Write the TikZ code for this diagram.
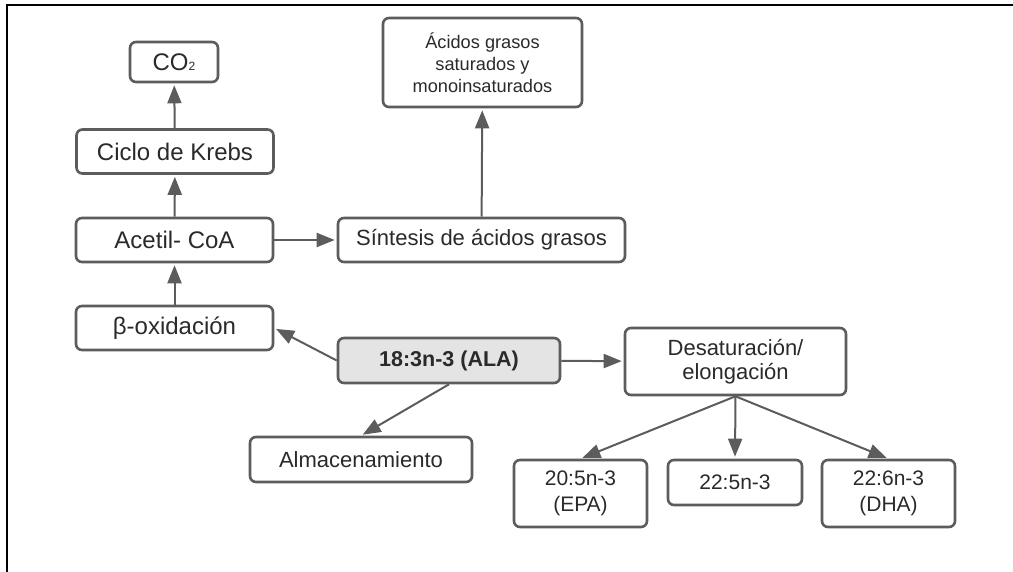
\documentclass[tikz,border=0pt]{standalone}
\usepackage{fontspec}
\setmainfont{Liberation Sans}
\usetikzlibrary{arrows.meta}
\definecolor{edge}{HTML}{5C5C5C}
\definecolor{ink}{HTML}{2A2A2A}
\definecolor{alafill}{HTML}{E4E4E4}
\begin{document}
\begin{tikzpicture}[x=1pt,y=-1pt,
  box/.style={draw=edge, line width=2.6pt, rounded corners=6pt, fill=white,
    inner sep=0pt, text=ink, align=center},
  conn/.style={draw=edge, line width=2pt, shorten >=2pt,
    -{Triangle[length=18pt,width=14pt]}},
  fA/.style={font=\fontsize{24}{27}\selectfont},
  fB/.style={font=\fontsize{22}{23.5}\selectfont},
  fC/.style={font=\fontsize{18.2}{21.7}\selectfont},
  fD/.style={font=\fontsize{21}{26}\selectfont}]
\useasboundingbox (0,0) rectangle (1013,572);
% outer frame (top and left edges)
\draw[line width=2pt, black] (7,572) -- (7,5) -- (1013,5);

% left column: oxidation pathway
\node[box, fA, minimum width=88pt, minimum height=40pt] (co2) at (174,62) {CO{\fontsize{12}{12}\selectfont 2}};
\node[box, fA, minimum width=197pt, minimum height=44pt] (krebs) at (175,151.5) {Ciclo de Krebs};
\node[box, fA, minimum width=197pt, minimum height=44pt] (acetil) at (174.5,240) {Acetil- CoA};
\node[box, fA, minimum width=197pt, minimum height=44pt] (beta) at (174.5,328) {β-oxidación};

% synthesis branch
\node[box, fB, minimum width=287pt, minimum height=44pt] (sint) at (481.5,240) {Síntesis de ácidos grasos};
\node[box, fC, minimum width=199pt, minimum height=89pt] (agsat) at (482.5,62.5) {Ácidos grasos\\saturados y\\monoinsaturados};

% central substrate
\node[box, fill=alafill, minimum width=222pt, minimum height=45pt,
  font=\fontsize{21.5}{24}\selectfont\bfseries] (ala) at (449,360.5) {18:3n-3 (ALA)};
\node[box, fB, minimum width=222pt, minimum height=45pt] (alma) at (361,459.5) {Almacenamiento};

% desaturation / elongation products
\node[box, fB, minimum width=221pt, minimum height=67pt] (desat) at (735.5,361.5) {Desaturación/\\elongación};
\node[box, fD, minimum width=133pt, minimum height=67pt] (epa) at (580.5,493.5) {20:5n-3\\(EPA)};
\node[box, fD, minimum width=134pt, minimum height=45pt] (dpa) at (735,482.5) {22:5n-3};
\node[box, fD, minimum width=133pt, minimum height=67pt] (dha) at (888.5,493.5) {22:6n-3\\(DHA)};

% connectors
\draw[conn] (krebs) -- (co2);
\draw[conn] (acetil) -- (krebs);
\draw[conn] (beta) -- (acetil);
\draw[conn] (acetil) -- (sint);
\draw[conn] (sint) -- (agsat);
\draw[conn] (ala.west) -- (beta.east);
\draw[conn] (ala) -- (desat);
\draw[conn] (ala.south) -- (alma.north);
\draw[conn] (desat.south) -- (epa.north);
\draw[conn] (desat.south) -- (dpa.north);
\draw[conn] (desat.south) -- (dha.north);
\end{tikzpicture}
\end{document}
